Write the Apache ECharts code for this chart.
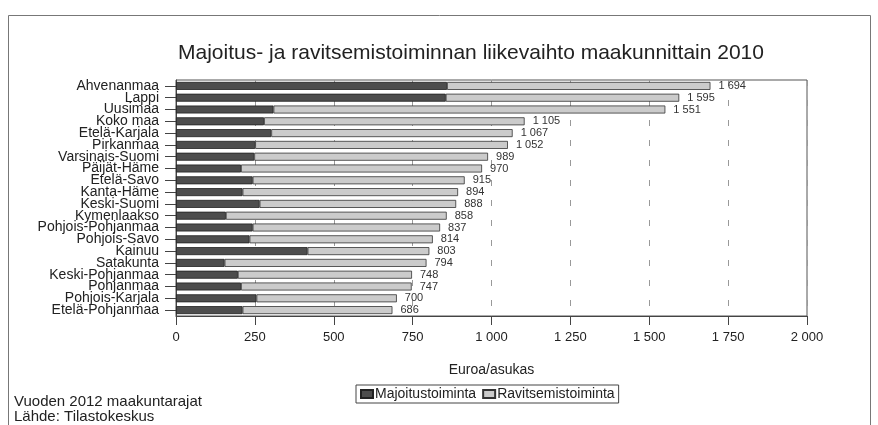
<!DOCTYPE html>
<html>
<head>
<meta charset="utf-8">
<script src="https://cdn.jsdelivr.net/npm/echarts@6/dist/echarts.min.js"></script>
<style>
  html, body { margin: 0; padding: 0; background: #fff; }
  #chart { width: 878px; height: 425px; }
</style>
</head>
<body>
<div id="chart"></div>
<script>
// maakunnat, ylhäältä alas
var regions = ['Ahvenanmaa', 'Lappi', 'Uusimaa', 'Koko maa', 'Etelä-Karjala', 'Pirkanmaa',
  'Varsinais-Suomi', 'Päijät-Häme', 'Etelä-Savo', 'Kanta-Häme', 'Keski-Suomi', 'Kymenlaakso',
  'Pohjois-Pohjanmaa', 'Pohjois-Savo', 'Kainuu', 'Satakunta', 'Keski-Pohjanmaa', 'Pohjanmaa',
  'Pohjois-Karjala', 'Etelä-Pohjanmaa'];

var totals = [1694, 1595, 1551, 1105, 1067, 1052, 989, 970, 915, 894, 888, 858, 837, 814, 803, 794, 748, 747, 700, 686];
var majoitus = [859, 855, 309, 279, 302, 251, 248, 206, 243, 211, 265, 158, 243, 233, 417, 154, 196, 206, 255, 211];

var ravitsemis = totals.map(function (t, i) { return t - majoitus[i]; });

function fmt(v) {
  return String(v).replace(/\B(?=(\d{3})+(?!\d))/g, ' ');
}

var chart = echarts.init(document.getElementById('chart'));
var font = 'Liberation Sans, Arial, sans-serif';

var option = {
  animation: false,
  textStyle: { fontFamily: font },
  title: {
    text: 'Majoitus- ja ravitsemistoiminnan liikevaihto maakunnittain 2010',
    left: 466, top: 38, textAlign: 'center',
    textStyle: { fontSize: 21, fontWeight: 'normal', color: '#222', fontFamily: font }
  },
  legend: {
    data: ['Majoitustoiminta', 'Ravitsemistoiminta'],
    icon: 'rect',
    left: 356, top: 385,
    itemWidth: 12, itemHeight: 8, itemGap: 6,
    borderColor: '#444', borderWidth: 1, padding: [2, 4],
    textStyle: { fontSize: 14, color: '#222', padding: [0, 0, 0, -3] }
  },
  graphic: [
    { type: 'rect', shape: { x: 8.5, y: 15.5, width: 862, height: 430 }, style: { fill: 'none', stroke: '#777', lineWidth: 1 } },
    { type: 'text', left: 14, top: 394, style: { text: 'Vuoden 2012 maakuntarajat', fontSize: 15, fill: '#222', fontFamily: font } },
    { type: 'text', left: 14, top: 409, style: { text: 'Lähde: Tilastokeskus', fontSize: 15, fill: '#222', fontFamily: font } }
  ],
  grid: { left: 176, right: 71, top: 80, bottom: 109, show: true, borderColor: '#555', borderWidth: 1 },
  xAxis: {
    type: 'value', min: 0, max: 2000, interval: 250,
    name: 'Euroa/asukas', nameLocation: 'middle', nameGap: 47,
    nameTextStyle: { fontSize: 14, color: '#222' },
    axisLine: { show: true, lineStyle: { color: '#444' } },
    axisTick: { show: true, length: 9, lineStyle: { color: '#444' } },
    axisLabel: { fontSize: 13, color: '#222', margin: 15, formatter: function (v) { return fmt(v); } },
    splitLine: { show: true, lineStyle: { color: '#999', type: [6, 14] } }
  },
  yAxis: {
    type: 'category', data: regions, inverse: true,
    axisLine: { show: true, lineStyle: { color: '#444' } },
    axisTick: { show: true, alignWithLabel: true, length: 11, lineStyle: { color: '#444' } },
    axisLabel: { fontSize: 14, color: '#222', margin: 17, interval: 0, lineHeight: 12 }
  },
  series: [
    {
      name: 'Majoitustoiminta', type: 'bar', stack: 'a', barWidth: 8,
      data: majoitus,
      itemStyle: { color: '#4d4d4d', borderColor: '#222', borderWidth: 0.8 }
    },
    {
      name: 'Ravitsemistoiminta', type: 'bar', stack: 'a', barWidth: 8,
      data: ravitsemis,
      itemStyle: { color: '#cbcbcb', borderColor: '#333', borderWidth: 0.8 },
      label: {
        show: true, position: 'right', distance: 8, fontSize: 11, color: '#333',
        formatter: function (p) { return fmt(totals[p.dataIndex]); }
      }
    }
  ]
};
chart.setOption(option);
</script>
</body>
</html>
